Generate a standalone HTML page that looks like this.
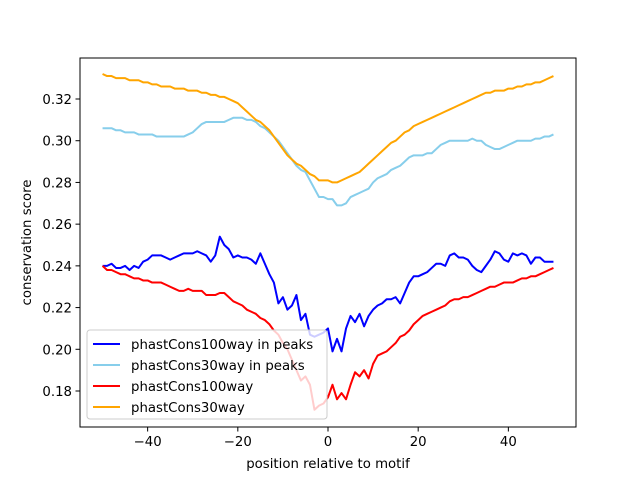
<!DOCTYPE html>
<html><head><meta charset="utf-8"><style>
body{margin:0;background:#fff}
svg{display:block;font-family:"DejaVu Sans","Liberation Sans",sans-serif}
</style></head><body>
<svg id="chart" width="640" height="480" xmlns="http://www.w3.org/2000/svg"></svg>
<script>
const positions=[];for(let i=-50;i<=50;i++)positions.push(i);
const peaks100=[.240,.240,.241,.239,.239,.240,.238,.240,.239,.242,
.243,.245,.245,.245,.244,.243,.244,.245,.246,.246,
.246,.247,.246,.245,.242,.245,.254,.250,.248,.244,
.245,.244,.244,.243,.241,.246,.241,.236,.232,.222,
.225,.219,.221,.226,.214,.217,.207,.206,.207,.208,
.210,.199,.205,.199,.210,.216,.213,.217,.211,.216,
.219,.221,.222,.224,.224,.225,.222,.227,.232,.235,
.235,.236,.237,.239,.241,.241,.240,.245,.246,.244,
.244,.243,.240,.238,.237,.240,.243,.247,.246,.243,
.242,.246,.245,.246,.245,.241,.244,.244,.242,.242,.242];
const peaks30=[.306,.306,.306,.305,.305,.304,.304,.304,.303,.303,
.303,.303,.302,.302,.302,.302,.302,.302,.302,.303,
.304,.306,.308,.309,.309,.309,.309,.309,.310,.311,
.311,.311,.310,.310,.309,.307,.306,.304,.302,.300,
.297,.294,.291,.288,.286,.285,.281,.277,.273,.273,
.272,.272,.269,.269,.270,.273,.274,.275,.276,.277,
.280,.282,.283,.284,.286,.287,.288,.290,.292,.293,
.293,.293,.294,.294,.296,.298,.299,.300,.300,.300,
.300,.300,.301,.300,.300,.298,.297,.296,.296,.297,
.298,.299,.300,.300,.300,.300,.301,.301,.302,.302,.303];
const all100=[.240,.238,.238,.237,.236,.236,.235,.234,.234,.233,
.233,.232,.232,.232,.231,.230,.229,.228,.228,.229,
.228,.228,.228,.226,.226,.226,.227,.227,.225,.223,
.222,.221,.219,.218,.217,.215,.214,.212,.209,.207,
.203,.200,.195,.190,.185,.187,.183,.171,.173,.174,
.177,.183,.176,.179,.176,.183,.189,.187,.190,.186,
.193,.197,.198,.199,.201,.203,.206,.207,.209,.212,
.214,.216,.217,.218,.219,.220,.221,.223,.224,.224,
.225,.225,.226,.227,.228,.229,.230,.230,.231,.232,
.232,.232,.233,.234,.234,.235,.235,.236,.237,.238,.239];
const all30=[.332,.331,.331,.330,.330,.330,.329,.329,.329,.328,
.328,.327,.327,.326,.326,.326,.325,.325,.325,.324,
.324,.324,.323,.323,.322,.322,.321,.321,.320,.319,
.318,.316,.314,.312,.310,.309,.307,.305,.302,.299,
.296,.293,.291,.289,.288,.286,.284,.283,.281,.281,
.281,.280,.280,.281,.282,.283,.284,.285,.287,.289,
.291,.293,.295,.297,.299,.300,.302,.304,.305,.307,
.308,.309,.310,.311,.312,.313,.314,.315,.316,.317,
.318,.319,.320,.321,.322,.323,.323,.324,.324,.324,
.325,.325,.326,.326,.327,.327,.328,.328,.329,.330,.331];
const xTicks=[-40,-20,0,20,40];
const yTicks=[0.18,0.20,0.22,0.24,0.26,0.28,0.30,0.32];
const seriesNames=["phastCons100way in peaks","phastCons30way in peaks","phastCons100way","phastCons30way"];
const seriesColors=["#0000ff","#87ceeb","#ff0000","#ffa500"];

const L=80,R=576,T=58,B=427;
const xMin=-55,xMax=55,yMin=0.16274,yMax=0.33966;
const X=v=>L+(v-xMin)/(xMax-xMin)*(R-L);
const Y=v=>B-(v-yMin)/(yMax-yMin)*(B-T);
const svg=document.getElementById('chart');
const NS="http://www.w3.org/2000/svg";
function mk(tag,attrs,parent){const e=document.createElementNS(NS,tag);for(const k in attrs)e.setAttribute(k,attrs[k]);(parent||svg).appendChild(e);return e;}

const series=[peaks100,peaks30,all100,all30];
series.forEach((d,si)=>{
  const p=mk('polyline',{points:d.map((v,i)=>X(positions[i]).toFixed(2)+','+Y(v).toFixed(2)).join(' '),fill:'none',stroke:seriesColors[si],'stroke-width':2,'stroke-linejoin':'round'});
  
  
});
const frame=mk('rect',{x:L,y:T,width:R-L,height:B-T,fill:'none',stroke:'#000','stroke-width':1});



xTicks.forEach(t=>{
  const x=X(t);
  const tk=mk('line',{x1:x,x2:x,y1:B,y2:B+4.5,stroke:'#000'});
  
  
  const tx=mk('text',{x:x,y:B+19,'text-anchor':'middle','font-size':13.3,fill:'#000'});
  tx.textContent=(t<0?'\u2212'+(-t):t);
  
  
});
yTicks.forEach(t=>{
  const y=Y(t);
  const tk=mk('line',{x1:L-4.5,x2:L,y1:y,y2:y,stroke:'#000'});
  
  
  const tx=mk('text',{x:L-8,y:y+5,'text-anchor':'end','font-size':13.3,fill:'#000'});
  tx.textContent=t.toFixed(2);
  
  
});
const xl=mk('text',{x:(L+R)/2,y:468,'text-anchor':'middle','font-size':13.3});
xl.textContent='position relative to motif';


const yl=mk('text',{x:0,y:0,'text-anchor':'middle','font-size':13.3,transform:'translate(31,'+((T+B)/2)+') rotate(-90)'});
yl.textContent='conservation score';



const lg=mk('g',{});


mk('rect',{x:87,y:330,width:240,height:89,rx:3,fill:'rgba(255,255,255,0.8)',stroke:'#cccccc'},lg);
seriesNames.forEach((n,i)=>{
  const y=344+i*21;
  const g=mk('g',{},lg);
  
  
  mk('line',{x1:93,x2:120,y1:y,y2:y,stroke:seriesColors[i],'stroke-width':2},g);
  const t=mk('text',{x:131,y:y+5,'font-size':13.3},g);
  t.textContent=n;
});
</script>
</body></html>
